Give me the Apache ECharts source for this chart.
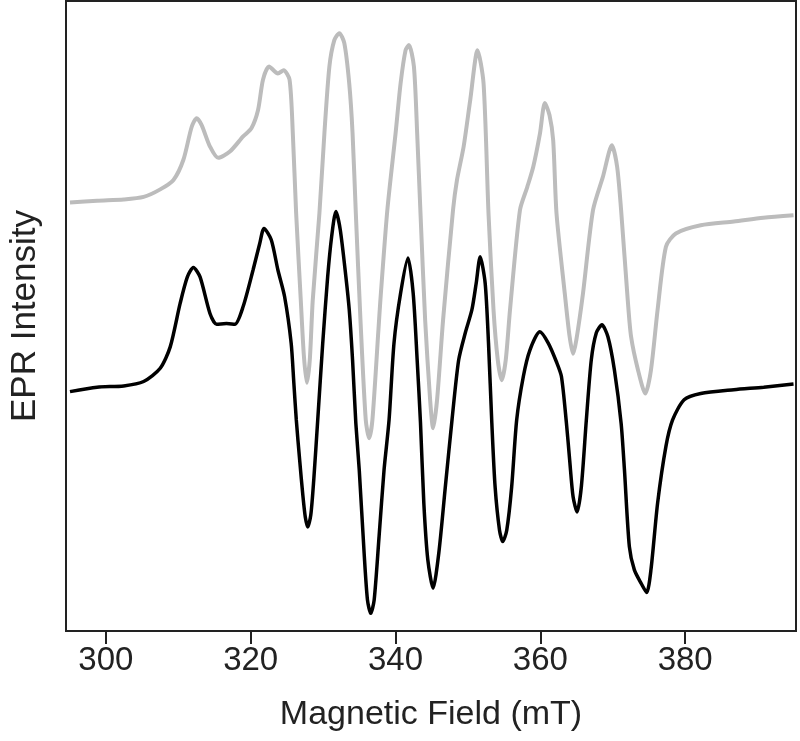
<!DOCTYPE html>
<html>
<head>
<meta charset="utf-8">
<script src="https://cdn.jsdelivr.net/npm/echarts@6/dist/echarts.min.js"></script>
<style>
html,body{margin:0;padding:0;background:#fff;}
#chart{width:800px;height:741px;}
</style>
</head>
<body>
<div id="chart"></div>
<script>
// Magnetic field (mT) and EPR intensity (arbitrary units)
const grayField = [295.05,298.80,302.47,305.22,307.51,309.34,310.71,311.85,312.54,313.23,314.38,315.52,317.13,318.96,320.10,321.02,321.70,322.53,323.76,324.55,325.37,325.82,326.28,326.92,327.34,327.75,328.16,328.57,329.49,330.18,330.87,331.55,332.24,332.93,333.61,334.07,334.52,335.16,335.89,336.36,336.81,337.64,337.91,338.87,340.01,340.70,341.39,341.85,342.54,342.99,343.45,344.09,344.78,345.19,345.74,346.57,347.94,348.49,349.41,350.32,351.33,352.16,352.84,353.53,354.12,354.67,355.22,355.81,357.18,358.20,359.02,359.95,360.62,361.26,361.77,362.23,363.37,364.01,364.52,364.97,365.89,367.27,368.64,369.88,370.60,371.15,372.07,372.53,373.49,374.49,375.27,376.19,377.34,378.71,382.14,386.72,390.80,394.96];
const grayIntensity = [68.0,68.3,68.5,68.9,70.1,71.6,74.8,80.0,81.4,80.3,76.9,75.1,76.1,78.5,79.8,82.7,87.5,89.6,88.5,89.0,87.5,79.0,66.3,52.5,43.8,39.4,43.0,52.5,66.3,79.0,89.6,93.8,94.9,93.3,86.9,79.0,66.3,49.4,33.5,30.6,33.5,47.8,52.5,66.8,79.0,86.9,92.2,93.0,89.6,79.0,66.3,49.4,36.7,32.2,36.7,49.4,66.8,71.6,76.9,84.3,92.2,86.9,66.3,51.0,43.0,39.8,43.0,51.0,66.8,70.5,73.7,79.0,83.8,81.9,77.9,66.3,53.6,47.0,44.0,46.2,53.6,66.8,72.1,77.1,73.7,66.8,52.5,46.7,41.4,37.7,41.4,51.0,61.0,63.1,64.4,65.0,65.6,66.0];

const blackField = [295.05,298.80,302.47,305.22,307.51,308.89,310.26,311.26,312.09,313.01,314.38,315.29,316.66,317.82,318.96,320.33,321.25,321.84,322.84,323.76,324.68,325.59,325.96,326.30,326.79,327.20,327.54,327.88,328.30,328.71,329.26,329.95,330.63,331.18,331.77,332.37,333.15,333.61,334.07,334.52,334.99,335.67,336.13,336.58,337.05,337.73,338.42,339.11,339.79,340.70,341.72,342.44,342.99,343.45,343.91,344.46,345.19,345.97,346.88,347.80,348.72,349.63,350.55,351.14,351.69,352.38,352.84,353.30,353.75,354.36,354.81,355.36,356.04,356.73,357.65,358.56,359.93,361.09,362.23,362.91,363.60,364.05,364.52,365.07,365.66,366.35,367.03,367.72,368.50,369.33,370.23,371.15,371.61,372.29,372.98,373.90,374.68,375.27,376.19,377.34,378.26,379.85,382.14,386.72,390.84,394.96];
const blackIntensity = [38.0,38.7,38.9,39.6,41.7,45.1,52.0,56.2,57.7,56.2,50.4,48.7,48.8,48.7,51.5,57.3,61.5,63.9,62.1,57.3,53.1,45.7,39.4,33.5,26.8,21.6,18.1,16.5,18.4,24.0,33.5,45.7,56.2,62.6,66.6,63.7,56.2,51.0,43.0,33.0,25.6,12.3,4.9,2.8,4.9,15.0,25.6,33.5,45.7,53.6,59.2,53.6,43.0,33.0,20.3,11.3,6.8,12.3,22.9,33.5,43.0,47.3,51.0,55.2,59.4,55.2,45.7,33.0,22.9,16.0,14.2,16.0,22.9,33.5,40.4,44.6,47.5,45.7,42.7,40.4,33.0,27.1,21.3,18.9,22.9,33.5,43.0,47.3,48.6,46.7,41.4,33.0,25.6,13.4,9.7,7.6,6.1,9.7,20.3,29.3,33.5,36.7,37.7,38.3,38.7,39.2];

const xTicks = [300,320,340,360,380];

const zip = (a,b) => a.map((v,i)=>[v,b[i]]);
const chart = echarts.init(document.getElementById('chart'), null, {renderer:'canvas'});
const font = 'Liberation Sans, Arial, sans-serif';
chart.setOption({
  animation:false,
  backgroundColor:'#fff',
  grid:{left:62,top:1,right:4,bottom:110,show:true,borderColor:'#222',borderWidth:2,backgroundColor:'transparent'},
  xAxis:{
    type:'value',min:294.5,max:395.3,
    name:'Magnetic Field (mT)',nameLocation:'middle',nameGap:67,
    nameTextStyle:{fontSize:34,color:'#222',fontFamily:font},
    axisLine:{show:false},
    splitLine:{show:false},
    axisTick:{show:true,length:13,inside:false,customValues:xTicks,lineStyle:{color:'#222',width:2}},
    axisLabel:{show:true,customValues:xTicks,margin:13,fontSize:33,color:'#222',fontFamily:font}
  },
  yAxis:{
    type:'value',min:0,max:100,
    name:'EPR Intensity',nameLocation:'middle',nameGap:23,nameRotate:90,
    nameTextStyle:{fontSize:35,color:'#222',fontFamily:font},
    axisLine:{show:false},axisTick:{show:false},axisLabel:{show:false},splitLine:{show:false}
  },
  series:[
    {type:'line',data:zip(grayField,grayIntensity),showSymbol:false,smooth:0.25,lineStyle:{color:'#bcbcbc',width:4},z:2},
    {type:'line',data:zip(blackField,blackIntensity),showSymbol:false,smooth:0.25,lineStyle:{color:'#000',width:3.5},z:3}
  ]
});
</script>
</body>
</html>
